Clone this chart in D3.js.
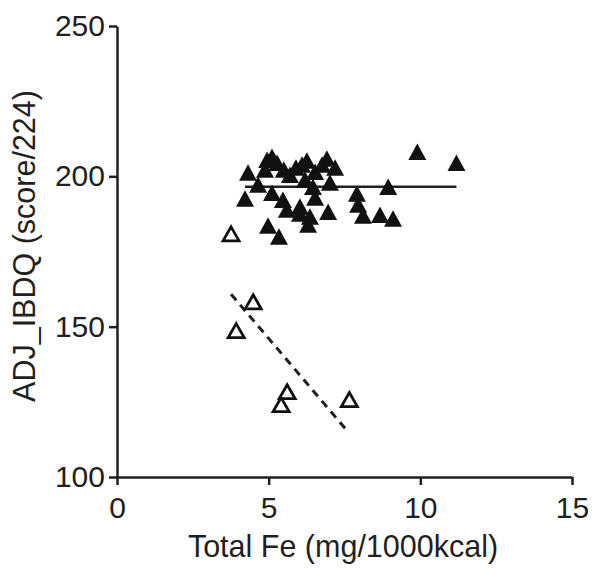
<!DOCTYPE html>
<html>
<head>
<meta charset="utf-8">
<script src="https://cdn.jsdelivr.net/npm/d3@7"></script>
<style>
  body { margin: 0; background: #fff; }
  text { font-family: "Liberation Sans", Arial, sans-serif; fill: #231f20; }
</style>
</head>
<body>
<svg id="chart" width="600" height="579"></svg>
<script>
// filled triangles (group 1)
const filledX = [4.32, 4.22, 4.65, 4.88, 4.95, 5.11, 5.28, 5.11, 5.47, 5.60, 4.98, 5.34, 5.70, 5.90, 6.10, 6.26, 6.03, 6.53, 6.92, 7.19,
                 7.02, 6.46, 6.53, 6.03, 6.36, 6.96, 6.30, 7.91, 7.95, 8.11, 8.67, 8.94, 9.10, 9.90, 11.19, 5.50, 6.76, 6.20];
const filledY = [201.0, 192.4, 197.0, 202.0, 205.3, 206.3, 204.3, 194.3, 192.0, 188.7, 183.4, 179.7, 200.3, 202.7, 203.7, 205.0, 187.4, 201.3, 205.7, 202.7,
                 197.7, 196.3, 192.7, 189.7, 186.4, 188.0, 183.7, 194.0, 190.4, 186.7, 187.0, 196.3, 185.7, 207.9, 204.3, 202.0, 203.7, 198.7];
// open triangles (group 2)
const openX = [3.76, 4.49, 3.93, 5.61, 5.41, 7.66];
const openY = [180.7, 158.1, 148.5, 128.2, 123.9, 125.6];
// fit lines (start / end)
const fitFilledX = [4.22, 11.19];
const fitFilledY = [196.5, 196.5];
const fitOpenX = [3.76, 7.62];
const fitOpenY = [160.8, 115.0];

const xTicks = [0, 5, 10, 15];
const yTicks = [100, 150, 200, 250];

const svg = d3.select("#chart");
const x = d3.scaleLinear().domain([0, 15]).range([117, 572]);
const y = d3.scaleLinear().domain([100, 250]).range([477, 26]);

const xAxis = svg.append("g").attr("transform", "translate(0,477)")
  .call(d3.axisBottom(x).tickValues(xTicks).tickSize(8).tickSizeOuter(0).tickPadding(12));
const yAxis = svg.append("g").attr("transform", "translate(117,0)")
  .call(d3.axisLeft(y).tickValues(yTicks).tickSize(8).tickSizeOuter(0).tickPadding(4));

[xAxis, yAxis].forEach(a => {
  a.selectAll("path, line").attr("stroke", "#231f20").attr("stroke-width", 2.5);
  a.selectAll("text").style("font-size", "30px").style("font-family", '"Liberation Sans", Arial, sans-serif').attr("fill", "#231f20");
});

svg.append("text").attr("x", 343).attr("y", 557).attr("text-anchor", "middle")
  .style("font-size", "30.5px").text("Total Fe (mg/1000kcal)");
svg.append("text").attr("transform", "translate(35,246) rotate(-90)").attr("text-anchor", "middle")
  .style("font-size", "30.5px").text("ADJ_IBDQ (score/224)");

// fit lines
const line = d3.line().x(d => x(d[0])).y(d => y(d[1]));
svg.append("path").attr("d", line(d3.zip(fitFilledX, fitFilledY)))
  .attr("stroke", "#231f20").attr("stroke-width", 2.5).attr("fill", "none");
svg.append("path").attr("d", line(d3.zip(fitOpenX, fitOpenY)))
  .attr("stroke", "#231f20").attr("stroke-width", 3).attr("stroke-dasharray", "8,6").attr("fill", "none");

const tri = "M0,-9L9,7.5L-9,7.5Z";
svg.append("g").selectAll("path").data(d3.zip(filledX, filledY)).join("path")
  .attr("d", tri).attr("transform", d => `translate(${x(d[0])},${y(d[1])})`)
  .attr("fill", "#111");
svg.append("g").selectAll("path").data(d3.zip(openX, openY)).join("path")
  .attr("d", "M0,-7.5L8,6.5L-8,6.5Z").attr("transform", d => `translate(${x(d[0])},${y(d[1])})`)
  .attr("fill", "#fff").attr("stroke", "#111").attr("stroke-width", 2.8).attr("stroke-linejoin", "miter");
</script>
</body>
</html>
